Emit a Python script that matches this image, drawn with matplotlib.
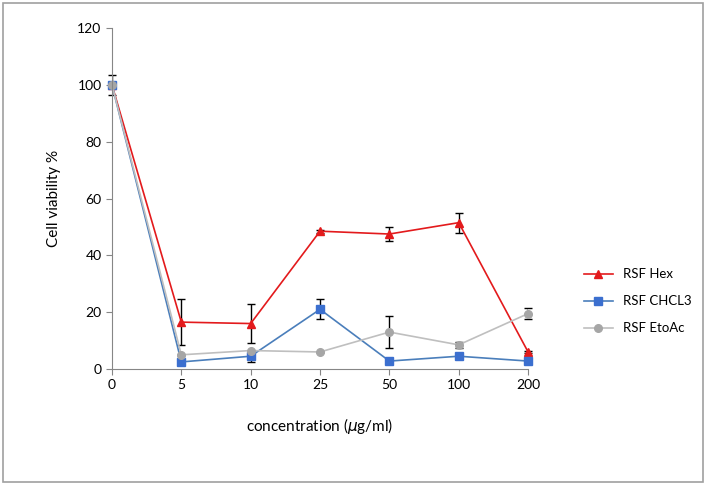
import matplotlib.pyplot as plt

conc = ['0', '5', '10', '25', '50', '100', '200']
hex_vals = [100, 16.5, 16, 48.5, 47.5, 51.5, 6]
hex_err = [0, 8, 7, 0.5, 2.5, 3.5, 0.5]
chcl3_vals = [100, 2.5, 4.5, 21, 2.8, 4.5, 2.8]
chcl3_err = [3.5, 0, 2, 3.5, 0, 0, 0]
etoac_vals = [100, 5, 6.5, 6, 13, 8.5, 19.5]
etoac_err = [0, 0, 0, 0, 5.5, 1, 2]

plt.rcParams['font.family'] = ['Lato', 'DejaVu Sans']

fig = plt.figure(figsize=(7.06, 4.86), dpi=100)
ax = fig.add_axes([0.1586, 0.2407, 0.5894, 0.7017])

x = range(len(conc))
ax.errorbar(x, hex_vals, yerr=hex_err, color='#e31a1c', marker='^', markersize=5.5,
            lw=1.2, ecolor='black', elinewidth=1, capsize=3, label='RSF Hex')
ax.errorbar(x, chcl3_vals, yerr=chcl3_err, color='#4a7ebb', marker='s', markersize=5.5,
            mfc='#3b6fcf', mec='#3b6fcf', lw=1.2, ecolor='black', elinewidth=1,
            capsize=3, label='RSF CHCL3')
ax.errorbar(x, etoac_vals, yerr=etoac_err, color='#bfbfbf', marker='o', markersize=5.5,
            mfc='#a6a6a6', mec='#a6a6a6', lw=1.2, ecolor='black', elinewidth=1,
            capsize=3, label='RSF EtoAc')

ax.set_xlim(0, 6)
ax.set_ylim(0, 120)
ax.set_yticks(range(0, 121, 20))
ax.set_xticks(list(x))
ax.set_xticklabels(conc)
for s in ['top', 'right']:
    ax.spines[s].set_visible(False)
for s in ['left', 'bottom']:
    ax.spines[s].set_color('#868686')
ax.tick_params(colors='#868686', labelcolor='black', labelsize=10, length=4)

ax.set_ylabel('Cell viability %', fontsize=11, labelpad=12)
ax.set_xlabel('concentration ($\\mu$g/ml)', fontsize=11, labelpad=18)

handles, labels = ax.get_legend_handles_labels()
handles = [h[0] for h in handles]
fig.legend(handles, labels, loc='center left', bbox_to_anchor=(0.81, 0.38),
           frameon=False, fontsize=9.5, labelspacing=1.15, handlelength=2.2)

fig.patches.append(plt.Rectangle((0.004, 0.008), 0.992, 0.986, transform=fig.transFigure,
                                 fill=False, edgecolor='#a0a0a0', lw=1.2))
for line in ax.lines:
    line.set_clip_on(False)

fig.savefig('out.png', dpi=100)
